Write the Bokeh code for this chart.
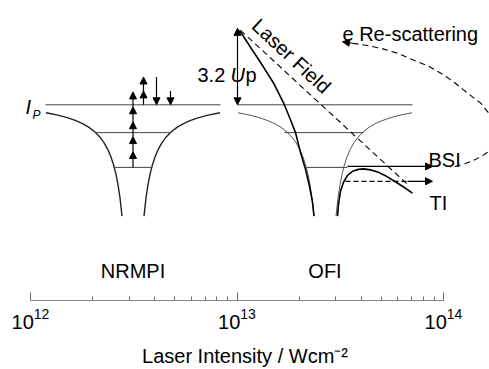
import numpy as np
from bokeh.plotting import figure
from bokeh.models import (Range1d, LogScale, LogAxis, FixedTicker, LogTickFormatter,
                          Arrow, NormalHead, ColumnDataSource)
from bokeh.embed import file_html
from bokeh.resources import INLINE
from bokeh.core.properties import value

FONT = "Liberation Sans"

# ---------------- data (schematic units: horizontal / energy, energy grows downward) -------------
# intensity axis
major_ticks = [1e12, 1e13, 1e14]
minor_ticks = [m * 10.0 ** e for e in (12, 13) for m in range(2, 10)]
axis_title = "Laser Intensity / Wcm\u207b\u00b2"

# Coulomb well, left branch (offset from well centre, energy)
well_dx = [-87, -75, -65, -57, -50, -44, -38, -33, -29, -25, -22, -19, -17, -15, -13, -11]
well_e = [113, 115.4, 118.1, 121, 124.1, 127.7, 132.4, 137.6, 143.1, 150.3, 157.5, 166.9, 175, 185.3, 198.7, 217]
well_centres = [132.5, 324.5]          # NRMPI, OFI
well_names = ["NRMPI", "OFI"]

# bound levels: (x start, x end, energy)
lvl_x0 = [45, 95, 113, 237, 284, 306]
lvl_x1 = [220, 170, 152, 412, 363, 347]
lvl_e = [105, 133, 168, 105, 133, 168]

# field-distorted potential (OFI)
fld_left_x = [239, 250, 263, 273, 283, 290, 295, 300, 305, 309, 312, 313.5]
fld_left_e = [30, 47, 67, 83, 103, 120, 133, 153, 170, 187, 203, 217]
fld_right_x = [337, 338, 340, 343, 347, 352, 358, 363, 370, 378, 386, 394, 402, 412]
fld_right_e = [217, 205, 192, 183, 176, 172, 170, 169.5, 170.5, 173, 177, 182, 187, 194]

# laser field line
field_x = [240, 408]
field_e = [30, 186]

# re-scattering path
resc_x = [352, 365, 380, 397, 413, 428, 440, 452, 463, 472, 480, 488, 494, 496, 493, 488, 481, 473, 465, 457, 450]
resc_e = [43, 45, 48, 53, 60, 66, 73, 81, 90, 97, 103, 113, 124, 135, 145, 152, 157, 161, 164, 166.5, 168]

# multiphoton absorption arrows (x, from, to)
ph_x = [132.5, 132.5, 132.5, 132.5, 132.5, 143, 143, 156, 170]
ph_e0 = [168, 152, 137, 122, 107, 105, 91, 77, 91]
ph_e1 = [152, 137, 122, 107, 92, 91, 77, 105, 105]

# ionisation arrows
bsi_x = [347, 432]
bsi_e = 167
ti_dash_x = [345, 407]
ti_arrow_x = [407, 432]
ti_e = 182
up_x = 237
up_e = [105, 28]

# ---------------- figure -------------
W, H = 489, 369
p = figure(width=W, height=H, output_backend="svg", toolbar_location=None,
           x_axis_location=None, y_axis_location=None,
           x_range=Range1d(0, 489), y_range=Range1d(302, 0),
           min_border_left=0, min_border_right=0, min_border_top=0, min_border_bottom=67)
p.outline_line_color = None
p.background_fill_color = "white"
p.xgrid.visible = False
p.ygrid.visible = False
for r in p.center:
    r.visible = False

px_per_decade = 206.5
p.extra_x_ranges = {"I": Range1d(10 ** (12 - 30 / px_per_decade), 10 ** (12 + 459 / px_per_decade))}
p.extra_x_scales = {"I": LogScale()}
ax = LogAxis(x_range_name="I", ticker=FixedTicker(ticks=major_ticks, minor_ticks=minor_ticks),
             formatter=LogTickFormatter(), bounds=(1e12, 1e14))
ax.axis_line_color = "#888888"
ax.major_tick_line_color = "#666666"
ax.minor_tick_line_color = "#666666"
ax.major_tick_in = 8
ax.major_tick_out = 0
ax.minor_tick_in = 4
ax.minor_tick_out = 0
ax.major_label_standoff = 7
ax.major_label_text_font = FONT
ax.major_label_text_font_size = "20px"
ax.major_label_text_color = "black"
ax.axis_label = axis_title
ax.axis_label_text_font = FONT
ax.axis_label_text_font_size = "20px"
ax.axis_label_text_font_style = "normal"
ax.axis_label_text_color = "black"
ax.axis_label_standoff = 13
p.add_layout(ax, "below")

dark = "#222222"
thin = "#444444"

# wells
for c, lw, col in zip(well_centres, [1.4, 0.9], [dark, thin]):
    xs = [c + d for d in well_dx]
    p.line(xs, well_e, line_color=col, line_width=lw)
    p.line([c - d for d in well_dx], well_e, line_color=col, line_width=lw)

# levels
p.segment(x0=lvl_x0, x1=lvl_x1, y0=lvl_e, y1=lvl_e, line_color=thin, line_width=1)

# field distorted potential
p.line(fld_left_x, fld_left_e, line_color="black", line_width=1.6)
p.line(fld_right_x, fld_right_e, line_color="black", line_width=1.6)
p.line(field_x, field_e, line_color="black", line_width=1.1, line_dash="6 4")

# re-scattering
p.line(resc_x, resc_e, line_color="black", line_width=1.1, line_dash="6 4")
p.add_layout(Arrow(end=NormalHead(size=7, fill_color="black", line_color="black"),
                   x_start=resc_x[0], y_start=resc_e[0], x_end=342, y_end=41.5,
                   line_color="black", line_width=1.1))

# photon arrows
src = ColumnDataSource(dict(x=ph_x, y0=ph_e0, y1=ph_e1))
p.add_layout(Arrow(end=NormalHead(size=7, fill_color="black", line_color="black"),
                   x_start="x", y_start="y0", x_end="x", y_end="y1", source=src,
                   line_color="black", line_width=1.2))

# 3.2 Up
p.add_layout(Arrow(start=NormalHead(size=7, fill_color="black", line_color="black"),
                   end=NormalHead(size=7, fill_color="black", line_color="black"),
                   x_start=up_x, y_start=up_e[0], x_end=up_x, y_end=up_e[1],
                   line_color="black", line_width=1.2))

# BSI / TI
p.add_layout(Arrow(end=NormalHead(size=7, fill_color="black", line_color="black"),
                   x_start=bsi_x[0], y_start=bsi_e, x_end=bsi_x[1], y_end=bsi_e,
                   line_color="black", line_width=1.4))
p.line(ti_dash_x, [ti_e, ti_e], line_color="black", line_width=1.2, line_dash="5 3")
p.add_layout(Arrow(end=NormalHead(size=7, fill_color="black", line_color="black"),
                   x_start=ti_arrow_x[0], y_start=ti_e, x_end=ti_arrow_x[1], y_end=ti_e,
                   line_color="black", line_width=1.2))

# texts
def txt(x, y, t, size="20px", style="normal", align="left", baseline="alphabetic", angle=0):
    p.text(x=[x], y=[y], text=[t], text_font=value(FONT), text_font_size=size,
           text_font_style=style, text_align=align, text_baseline=baseline,
           angle=angle, text_color="black")

txt(well_centres[0], 272, well_names[0], align="center")
txt(well_centres[1], 272, well_names[1], align="center")
txt(428, 161, "BSI")
txt(429, 204, "TI")
txt(342, 34, "e Re-scattering")
txt(197, 75, "3.2")
txt(230, 75, "U", style="italic")
txt(245, 75, "p")
txt(25, 107, "I", style="italic")
txt(32, 115, "P", size="12px", style="italic")
txt(291, 56, "Laser Field", align="center", baseline="middle", angle=-0.75)

open("out.html", "w").write(file_html(p, INLINE))
